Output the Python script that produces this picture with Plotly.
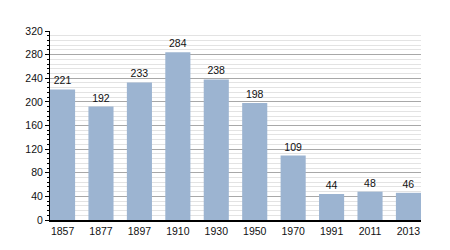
import plotly.graph_objects as go

years = ["1857", "1877", "1897", "1910", "1930", "1950", "1970", "1991", "2011", "2013"]
population = [221, 192, 233, 284, 238, 198, 109, 44, 48, 46]
y_ticks = [0, 40, 80, 120, 160, 200, 240, 280, 320]

bar_frac = 0.653
fig = go.Figure(go.Bar(
    x=years, y=population,
    marker=dict(color="#9cb4d1", line=dict(width=0)),
    text=[str(v) for v in population], textposition="outside",
    textfont=dict(size=10.5, color="#111"), cliponaxis=False,
    width=bar_frac,
))

fig.update_layout(
    width=450, height=250,
    margin=dict(l=50, r=29, t=31, b=30),
    paper_bgcolor="white", plot_bgcolor="white",
    font=dict(family="Liberation Sans, Arial", size=10.5, color="#111"),
    showlegend=False,
)
fig.update_xaxes(
    type="category", range=[-bar_frac / 2, len(years) - 1 + bar_frac / 2],
    showgrid=False, showline=True, linecolor="#000", linewidth=2,
    ticks="", tickfont=dict(size=10.5),
)
fig.update_yaxes(
    range=[0, 320], tickvals=y_ticks, showgrid=True, gridcolor="#a8a8a8", gridwidth=1,
    showline=True, linecolor="#000", linewidth=1, ticks="outside", ticklen=4,
    tickcolor="#000", zeroline=False, tickfont=dict(size=10.5),
    minor=dict(dtick=8, showgrid=True, gridcolor="#e3e3e3", ticks="outside", ticklen=2, tickcolor="#000"),
)

fig.write_html("out.html")
